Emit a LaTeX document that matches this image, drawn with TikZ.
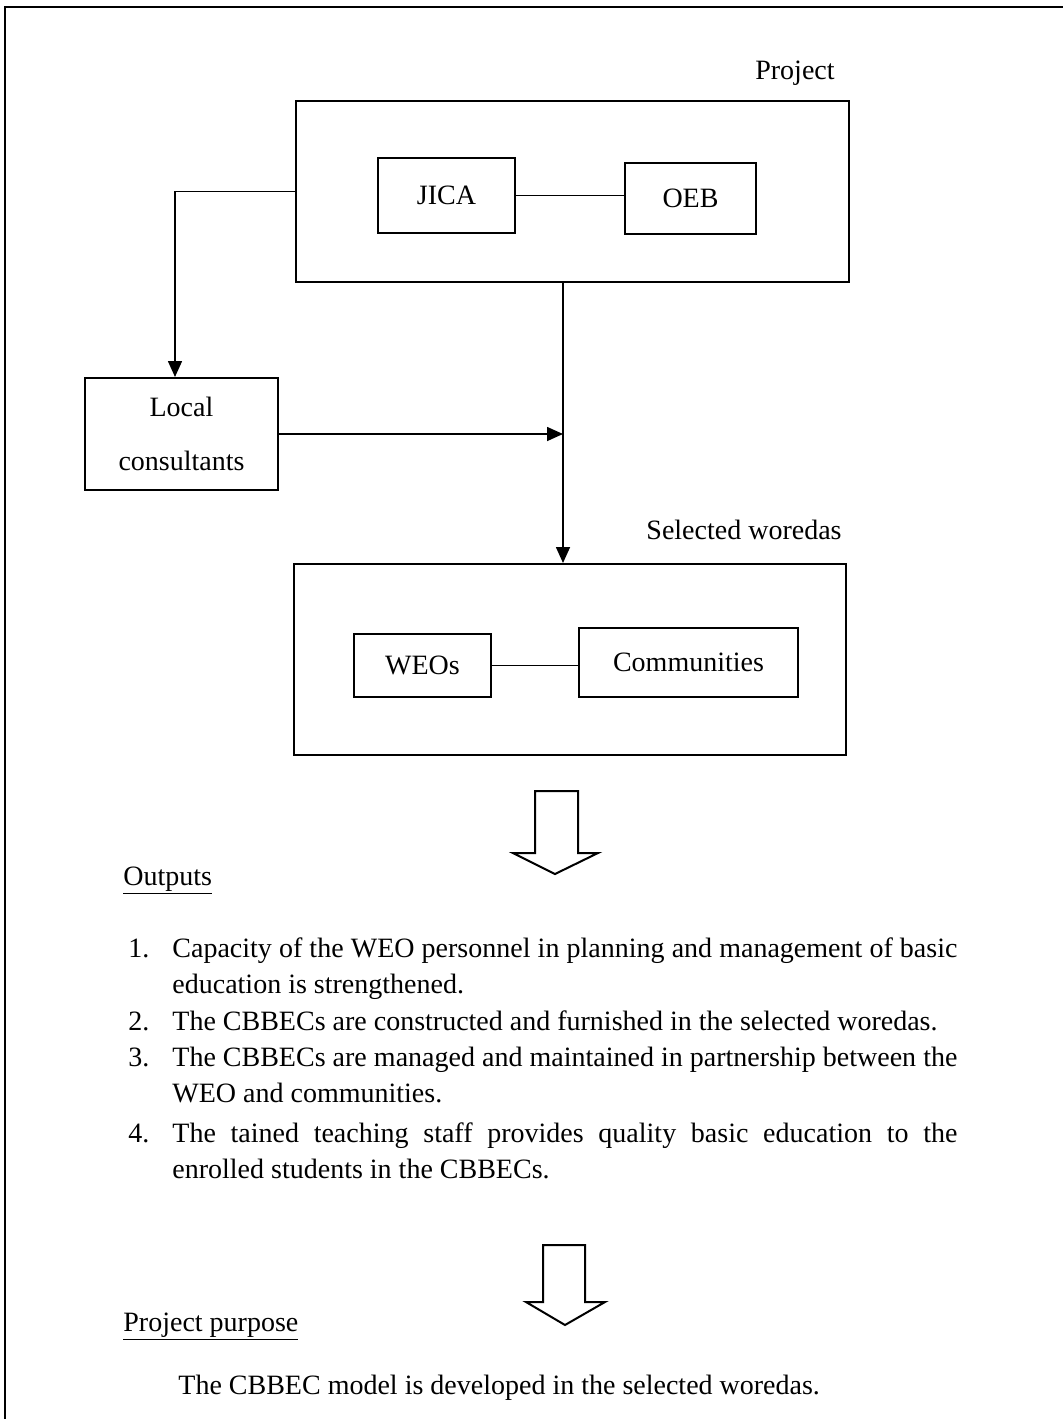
\documentclass[tikz,border=0pt]{standalone}
\usepackage{fontspec}
\setmainfont{Liberation Serif}
\usepackage{tikz}
\usetikzlibrary{arrows.meta}
\tikzset{
  frameline/.style={line width=1.4pt},
  box/.style={draw, line width=1pt, inner sep=0pt, align=center},
  link/.style={line width=0.8pt},
  flow/.style={line width=0.8pt, -{Triangle[length=8pt,width=7pt]}},
  hollow/.style={line width=1pt, line join=miter},
  itemtext/.style={anchor=base west, inner sep=0pt, text width=392.5pt, align=justify},
  plain/.style={anchor=base west, inner sep=0pt},
}

\begin{document}
\begin{tikzpicture}[x=0.5pt, y=-0.5pt, font=\fontsize{14}{18.4}\selectfont]
    \useasboundingbox (0,0) rectangle (1063,1419);

    % Draw the page frame
    \draw[frameline] (1063,7) -- (5,7) -- (5,1419);

    % Define the boxes of the project
    \node[box, minimum width=276.5pt, minimum height=90.5pt] (project) at (572.5,191.5) {};
    \node[box, minimum width=68.5pt, minimum height=37.5pt] (jica) at (446.5,195.5) {JICA};
    \node[box, minimum width=65.5pt, minimum height=35.5pt] (oeb) at (690.5,198.5) {OEB};
    \node (projlabel) at (795,73) {Project};

    % Local consultants
    \node[box, minimum width=96.5pt, minimum height=56pt] (local) at (181.5,434) {Local\\[9pt]consultants};

    % Define the boxes of the selected woredas
    \node[box, minimum width=276pt, minimum height=95.5pt] (selected) at (570,659.5) {};
    \node[box, minimum width=68.5pt, minimum height=31.5pt] (weos) at (422.5,665.5) {WEOs};
    \node[box, minimum width=109.5pt, minimum height=34.5pt] (comm) at (688.5,662.5) {Communities};
    \node (sellabel) at (744,530) {Selected woredas};

    % Draw the connectors
    \coordinate (split) at (563,435);
    \coordinate (drop) at (175,378);
    \draw[link] (jica.east) -- (jica.east -| oeb.west);
    \draw[link] (weos.east) -- (weos.east -| comm.west);
    \draw[flow] (project.west) -| (local.north -| drop);
    \draw[flow] (local.east) -- (local.east -| split);
    \draw[flow] (project.south -| split) -- (selected.north -| split);

    % Draw the hollow arrows
    \draw[hollow] (535,791) -- (578,791) -- (578,853) -- (598,853) -- (555,874)
      -- (513,853) -- (535,853) -- cycle;
    \draw[hollow] (543,1245) -- (585,1245) -- (585,1302) -- (605,1302) -- (565,1325)
      -- (526,1302) -- (543,1302) -- cycle;

    % Outputs
    \node[plain] (outputs) at (123,885) {\underline{Outputs}};
    \node[plain] (n1) at (128,957) {1.};
    \node[itemtext] (t1) at (172,957) {Capacity of the WEO personnel in planning and management of basic\linebreak education is strengthened.};
    \node[plain] (n2) at (128,1030) {2.};
    \node[itemtext] (t2) at (172,1030) {The CBBECs are constructed and furnished in the selected woredas.};
    \node[plain] (n3) at (128,1066) {3.};
    \node[itemtext] (t3) at (172,1066) {The CBBECs are managed and maintained in partnership between the\linebreak WEO and communities.};
    \node[plain] (n4) at (128,1142) {4.};
    \node[itemtext] (t4) at (172,1142) {The tained teaching staff provides quality basic education to the\linebreak enrolled students in the CBBECs.};

    % Project purpose
    \node[plain] (purpose) at (123,1331) {\underline{Project purpose}};
    \node[plain] (model) at (178,1394) {The CBBEC model is developed in the selected woredas.};
  \end{tikzpicture}
\end{document}
